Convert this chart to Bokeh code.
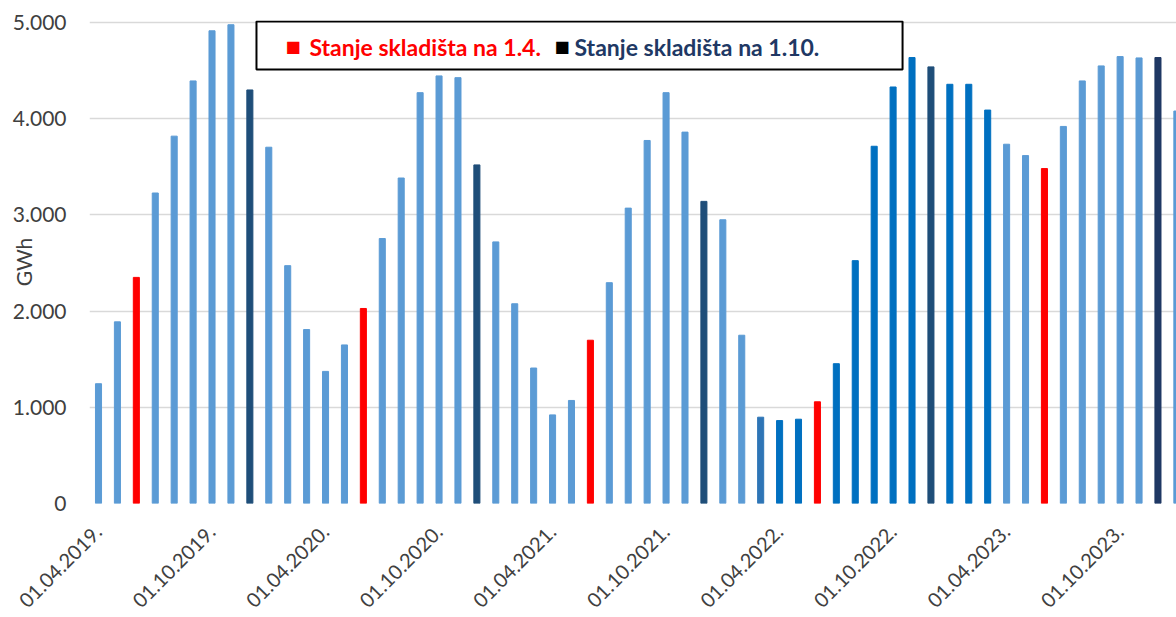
import math
from bokeh.plotting import figure
from bokeh.models import FixedTicker, BoxAnnotation, Label, Range1d, ColumnDataSource
from bokeh.embed import file_html
from bokeh.resources import INLINE

# ---- data (monthly gas storage level, GWh) ----
months = [
    "2019-02", "2019-03", "2019-04", "2019-05", "2019-06", "2019-07", "2019-08", "2019-09", "2019-10", "2019-11", "2019-12",
    "2020-01", "2020-02", "2020-03", "2020-04", "2020-05", "2020-06", "2020-07", "2020-08", "2020-09", "2020-10", "2020-11", "2020-12",
    "2021-01", "2021-02", "2021-03", "2021-04", "2021-05", "2021-06", "2021-07", "2021-08", "2021-09", "2021-10", "2021-11", "2021-12",
    "2022-01", "2022-02", "2022-03", "2022-04", "2022-05", "2022-06", "2022-07", "2022-08", "2022-09", "2022-10", "2022-11", "2022-12",
    "2023-01", "2023-02", "2023-03", "2023-04", "2023-05", "2023-06", "2023-07", "2023-08", "2023-09", "2023-10", "2023-11",
]
values = [
    1245, 1888, 2350, 3227, 3818, 4392, 4913, 4976, 4298, 3703, 2472,
    1808, 1373, 1648, 2027, 2754, 3383, 4270, 4444, 4426, 3519, 2719, 2076,
    1408, 921, 1071, 1697, 2295, 3070, 3773, 4270, 3860, 3140, 2949, 1749,
    897, 862, 876, 1057, 1453, 2524, 3713, 4329, 4635, 4538, 4357, 4357,
    4089, 3734, 3616, 3481, 3919, 4392, 4548, 4645, 4631, 4635, 4079,
]
groups = [
    "base", "base", "apr", "base", "base", "base", "base", "base", "oct", "base", "base",
    "base", "base", "base", "apr", "base", "base", "base", "base", "base", "oct", "base", "base",
    "base", "base", "base", "apr", "base", "base", "base", "base", "base", "oct", "base", "base",
    "jan22", "mid", "mid", "apr", "mid", "mid", "mid", "mid", "mid", "oct", "mid", "mid",
    "mid", "base", "base", "apr", "base", "base", "base", "base", "base", "oct23", "base",
]
group_colors = {
    "base": "#5B9BD5",
    "mid": "#0070C0",
    "jan22": "#2E75B6",
    "apr": "#FF0000",
    "oct": "#1F4E79",
    "oct23": "#1F3864",
}
x_tick_labels = ["01.04.2019.", "01.10.2019.", "01.04.2020.", "01.10.2020.", "01.04.2021.",
                 "01.10.2021.", "01.04.2022.", "01.10.2022.", "01.04.2023.", "01.10.2023."]
y_ticks = [0, 1000, 2000, 3000, 4000, 5000]
y_tick_labels = ["0", "1.000", "2.000", "3.000", "4.000", "5.000"]
legend_labels = ["Stanje skladišta na 1.4.", "Stanje skladišta na 1.10."]

# ---- figure ----
idx = list(range(len(months)))
src = ColumnDataSource(dict(x=idx, top=values, color=[group_colors[g] for g in groups], month=months))

p = figure(width=1176, height=617, output_backend="svg", toolbar_location=None,
           x_range=Range1d(-0.476, 56.98), y_range=Range1d(0, 5020),
           min_border_left=89, min_border_right=0, min_border_top=20, min_border_bottom=113)
p.outline_line_color = None
p.background_fill_color = "white"

p.vbar(x="x", top="top", bottom=0, width=0.32, color="color", source=src)

# axes
FONT = "Lato"
xa = p.xaxis[0]
label_pos = [i * 6 for i in range(len(x_tick_labels))]
xa.ticker = FixedTicker(ticks=label_pos)
xa.major_label_overrides = {pos: lab for pos, lab in zip(label_pos, x_tick_labels)}
xa.major_label_orientation = math.pi / 4
xa.major_label_text_font = FONT
xa.major_label_text_font_size = "20px"
xa.major_label_text_color = "#404040"
xa.axis_line_color = None
xa.major_tick_line_color = None
xa.minor_tick_line_color = None
xa.major_label_standoff = 19

ya = p.yaxis[0]
ya.ticker = FixedTicker(ticks=y_ticks)
ya.major_label_overrides = {t: lab for t, lab in zip(y_ticks, y_tick_labels)}
ya.major_label_text_font = FONT
ya.major_label_text_font_size = "21px"
ya.major_label_text_color = "#404040"
ya.axis_line_color = None
ya.major_tick_line_color = None
ya.minor_tick_line_color = None
ya.major_label_standoff = 17
ya.axis_label = "GWh"
ya.axis_label_text_font = FONT
ya.axis_label_text_font_style = "normal"
ya.axis_label_text_font_size = "21px"
ya.axis_label_text_color = "#404040"
ya.axis_label_standoff = -26

p.xgrid.grid_line_color = None
p.ygrid.grid_line_color = "#D9D9D9"
p.ygrid.grid_line_width = 1.5
p.ygrid.ticker = FixedTicker(ticks=y_ticks)

# legend box (drawn manually so each entry has its own text colour)
p.add_layout(BoxAnnotation(left=8.35, right=42.5, bottom=4512, top=5010,
                           fill_color="white", fill_alpha=1.0,
                           line_color="black", line_alpha=1.0, line_width=2, level="overlay"))
p.add_layout(Label(x=10.28, y=4745, text="■", text_color="#FF0000", text_font="DejaVu Sans",
                   text_font_size="16px", text_align="center", text_baseline="middle", level="overlay"))
p.add_layout(Label(x=11.15, y=4745, text=legend_labels[0], text_color="#FF0000", text_font=FONT,
                   text_font_style="bold", text_font_size="23px", text_baseline="middle", level="overlay"))
p.add_layout(Label(x=24.5, y=4745, text="■", text_color="#000000", text_font="DejaVu Sans",
                   text_font_size="16px", text_align="center", text_baseline="middle", level="overlay"))
p.add_layout(Label(x=25.16, y=4745, text=legend_labels[1], text_color="#203864", text_font=FONT,
                   text_font_style="bold", text_font_size="23px", text_baseline="middle", level="overlay"))

open("out.html", "w").write(file_html(p, INLINE))
